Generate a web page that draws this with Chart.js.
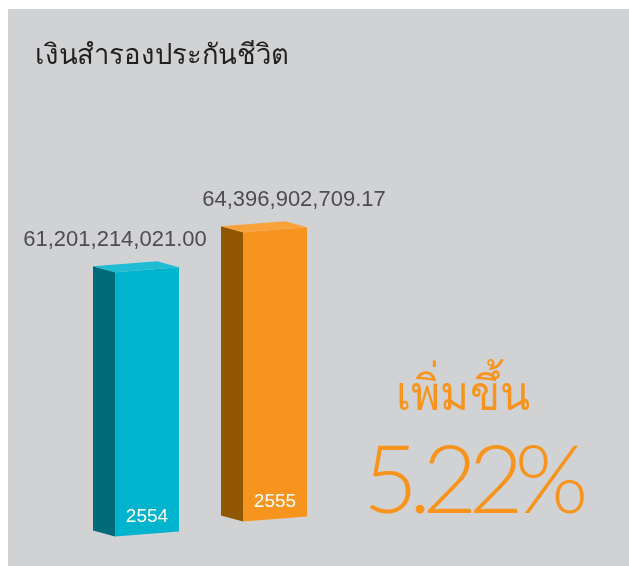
<!DOCTYPE html>
<html>
<head>
<meta charset="utf-8">
<script src="https://cdn.jsdelivr.net/npm/chart.js@4.4.1/dist/chart.umd.min.js"></script>
<style>
  body { margin: 0; background: #ffffff; }
  #wrap { position: relative; width: 629px; height: 566px; overflow: hidden; }
  #panel { position: absolute; left: 8px; top: 9px; width: 621px; height: 557px; background: #d1d2d4; }
  #chart { position: absolute; left: 0; top: 0; }
  .txt { position: absolute; white-space: nowrap; line-height: 1; }
  #title { left: 35px; top: 39px; font-family: "Noto Sans", sans-serif; font-size: 28px; font-weight: 300; color: #231f20; transform: scaleX(0.98); transform-origin: left top; }
  #upLabel { left: 396px; top: 368px; font-family: "Noto Sans", sans-serif; font-size: 48px; font-weight: 300; color: #f7941d; transform: scaleX(0.92); transform-origin: left top; }
  #upValue { left: 363px; top: 429px; font-family: Lato, sans-serif; font-size: 95px; font-weight: 300; color: #f7941d; letter-spacing: -9px; }
</style>
</head>
<body>
<div id="wrap">
  <div id="panel"></div>
  <canvas id="chart" width="629" height="566"></canvas>
  <div class="txt" id="title">เงินสำรองประกันชีวิต</div>
  <div class="txt" id="upLabel">เพิ่มขึ้น</div>
  <div class="txt" id="upValue">5.22%</div>
</div>
<script>
// chart data
const years = ["2554", "2555"];
const reserves = [61201214021.00, 64396902709.17];

// colours for each bar: front, side, top
const frontColors = ["#00b4cd", "#f7941e"];
const sideColors = ["#006b78", "#915700"];
const topColors = ["#1ebdd3", "#f9a23a"];

// value axis range (the original is not drawn from zero)
const Y_MIN = 27.4e9, Y_MAX = 82.9e9;

// pseudo 3d look of the original
const DEPTH_X = -22, DEPTH_Y = -6, SLANT = 5;
const rise = [0, 15];          // later bar sits a bit higher (perspective)
const labelShift = [-32, 19];  // value label offset from bar centre

const box3d = {
    id: "box3d",
    beforeDatasetsDraw(chart) {
        const ctx = chart.ctx;
        const meta = chart.getDatasetMeta(0);
        meta.data.forEach((bar, i) => {
            const half = bar.width / 2;
            const l = bar.x - half, r = bar.x + half;
            const top = bar.y - rise[i], base = bar.base - rise[i];
            const flt = [l, top + SLANT / 2], frt = [r, top - SLANT / 2];
            const frb = [r, base - SLANT / 2], flb = [l, base + SLANT / 2];
            const back = p => [p[0] + DEPTH_X, p[1] + DEPTH_Y];

            const poly = (pts, color) => {
                ctx.beginPath();
                ctx.moveTo(pts[0][0], pts[0][1]);
                pts.slice(1).forEach(p => ctx.lineTo(p[0], p[1]));
                ctx.closePath();
                ctx.fillStyle = color;
                ctx.fill();
            };
            poly([flt, flb, back(flb), back(flt)], sideColors[i]);
            poly([flt, frt, frb, flb], frontColors[i]);
            poly([flt, frt, back(frt), back(flt)], topColors[i]);

            // value above the bar
            ctx.fillStyle = "#4d4d4f";
            ctx.font = "22px 'Liberation Sans', Arial, sans-serif";
            ctx.textAlign = "center";
            ctx.textBaseline = "alphabetic";
            const text = reserves[i].toLocaleString("en-US", { minimumFractionDigits: 2, maximumFractionDigits: 2 });
            ctx.fillText(text, bar.x + labelShift[i], back(frt)[1] - 15);

            // year inside the bar
            ctx.fillStyle = "#ffffff";
            ctx.font = "19px 'Liberation Sans', Arial, sans-serif";
            ctx.fillText(years[i], bar.x, base - 12);
        });
        return false;
    }
};

new Chart(document.getElementById("chart"), {
    type: "bar",
    data: {
        labels: years,
        datasets: [{
            data: reserves,
            base: Y_MIN,
            backgroundColor: frontColors,
            barThickness: 64
        }]
    },
    options: {
        responsive: false,
        animation: false,
        layout: { padding: { left: 83, right: 290, top: 100, bottom: 32 } },
        plugins: { legend: { display: false }, tooltip: { enabled: false } },
        scales: {
            x: { display: false },
            y: { display: false, min: Y_MIN, max: Y_MAX }
        }
    },
    plugins: [box3d]
});
</script>
</body>
</html>
